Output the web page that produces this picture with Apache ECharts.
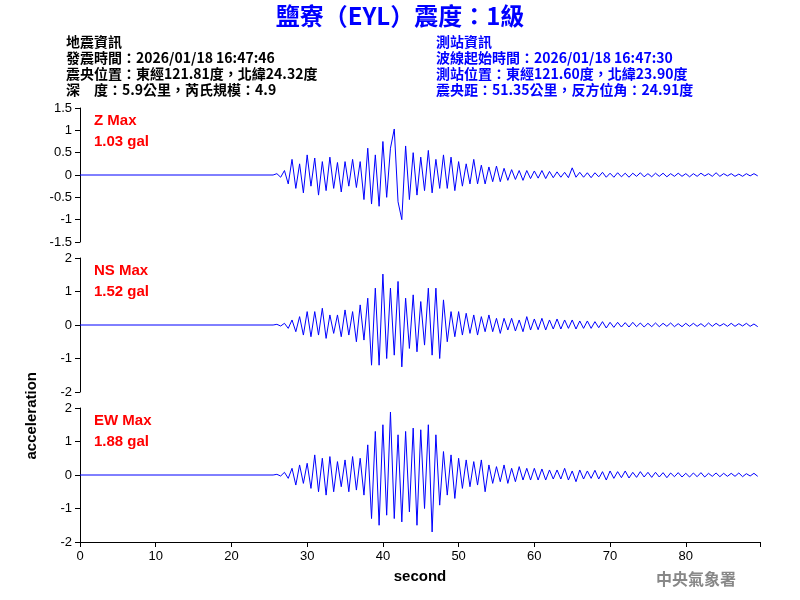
<!DOCTYPE html>
<html>
<head>
<meta charset="utf-8">
<script src="https://cdn.jsdelivr.net/npm/echarts@6/dist/echarts.min.js"></script>
<style>html,body{margin:0;background:#fff}#main{width:800px;height:600px}</style>
</head>
<body>
<div id="main"></div>
<script>
// samples every 0.5 s starting at 26 s (flat before)
var T0 = 26, STEP = 0.5;
var zData = [
	0.03,-0.05,0.1,-0.2,0.35,-0.3,0.25,-0.4,0.45,-0.25,
	0.38,-0.45,0.3,-0.35,0.4,-0.3,0.28,-0.38,0.3,-0.25,
	0.35,-0.28,0.3,-0.55,0.6,-0.65,0.45,-0.7,0.75,-0.5,
	0.6,1.03,-0.6,-1.0,0.65,-0.55,0.5,-0.45,0.4,-0.35,
	0.55,-0.4,0.35,-0.3,0.45,-0.3,0.4,-0.35,0.3,-0.25,
	0.25,-0.2,0.35,-0.2,0.22,-0.2,0.18,-0.15,0.2,-0.15,
	0.15,-0.12,0.12,-0.1,0.1,-0.12,0.1,-0.08,0.09,-0.07,
	0.1,-0.08,0.08,-0.06,0.07,-0.05,0.06,-0.06,0.16,-0.05,
	0.06,-0.05,0.05,-0.06,0.05,-0.04,0.06,-0.05,0.04,-0.05,
	0.05,-0.04,0.04,-0.05,0.04,-0.03,0.05,-0.04,0.03,-0.04,
	0.04,-0.03,0.04,-0.04,0.03,-0.03,0.04,-0.03,0.03,-0.04,
	0.03,-0.03,0.04,-0.02,0.03,-0.03,0.05,-0.03,0.03,-0.02,
	0.03,-0.03,0.02,-0.03,0.03,-0.02,0.03,-0.02
];
var nsData = [
	0.02,-0.03,0.05,-0.1,0.15,-0.2,0.25,-0.3,0.4,-0.35,
	0.4,-0.3,0.5,-0.4,0.3,-0.25,0.3,-0.35,0.45,-0.3,
	0.4,-0.5,0.6,-0.45,0.8,-1.2,1.1,-1.2,1.52,-1.0,
	1.1,-0.9,1.3,-1.25,0.8,-0.7,0.9,-0.8,0.7,-0.6,
	1.1,-0.9,1.1,-1.0,0.75,-0.5,0.4,-0.35,0.4,-0.3,
	0.35,-0.25,0.3,-0.3,0.25,-0.2,0.3,-0.2,0.2,-0.25,
	0.2,-0.15,0.2,-0.18,0.15,-0.2,0.25,-0.15,0.18,-0.14,
	0.2,-0.15,0.15,-0.12,0.18,-0.12,0.15,-0.1,0.15,-0.12,
	0.12,-0.1,0.12,-0.1,0.1,-0.08,0.1,-0.09,0.08,-0.07,
	0.08,-0.06,0.07,-0.06,0.08,-0.05,0.06,-0.06,0.05,-0.05,
	0.06,-0.05,0.05,-0.04,0.06,-0.05,0.04,-0.05,0.05,-0.04,
	0.05,-0.04,0.04,-0.05,0.06,-0.04,0.05,-0.03,0.04,-0.04,
	0.05,-0.04,0.04,-0.03,0.05,-0.04,0.03,-0.05
];
var ewData = [
	0.02,-0.03,0.08,-0.1,0.2,-0.3,0.3,-0.25,0.35,-0.4,
	0.6,-0.5,0.5,-0.6,0.55,-0.5,0.4,-0.35,0.45,-0.5,
	0.55,-0.45,0.5,-0.6,0.9,-1.3,1.3,-1.5,1.5,-1.2,
	1.88,-1.3,1.2,-1.4,1.3,-1.1,1.4,-1.5,1.35,-1.0,
	1.5,-1.7,1.2,-0.9,0.7,-0.6,0.6,-0.7,0.5,-0.4,
	0.45,-0.35,0.4,-0.3,0.45,-0.5,0.3,-0.25,0.25,-0.2,
	0.3,-0.25,0.2,-0.2,0.25,-0.15,0.2,-0.15,0.2,-0.15,
	0.18,-0.15,0.15,-0.12,0.15,-0.12,0.2,-0.15,0.12,-0.2,
	0.15,-0.12,0.12,-0.1,0.14,-0.12,0.1,-0.15,0.12,-0.1,
	0.1,-0.08,0.12,-0.09,0.08,-0.07,0.1,-0.06,0.08,-0.07,
	0.08,-0.06,0.07,-0.08,0.06,-0.05,0.07,-0.06,0.05,-0.06,
	0.06,-0.05,0.07,-0.06,0.05,-0.04,0.06,-0.05,0.05,-0.04,
	0.05,-0.04,0.06,-0.05,0.04,-0.03,0.05,-0.04
];
var panelNames = ['Z Max', 'NS Max', 'EW Max'];
var panelMax = ['1.03 gal', '1.52 gal', '1.88 gal'];
var yRanges = [[-1.5, 1.5, 0.5], [-2, 2, 1], [-2, 2, 1]];
var leftInfo = ['地震資訊', '發震時間：2026/01/18 16:47:46', '震央位置：東經121.81度，北緯24.32度', '深　度：5.9公里，芮氏規模：4.9'];
var rightInfo = ['測站資訊', '波線起始時間：2026/01/18 16:47:30', '測站位置：東經121.60度，北緯23.90度', '震央距：51.35公里，反方位角：24.91度'];

var font = '"Liberation Sans", Arial, "Noto Sans CJK TC", sans-serif';
var toPairs = function (arr) {
	var out = [[0, 0], [T0 - 0.5, 0]];
	arr.forEach(function (v, i) { out.push([T0 + i * STEP, v]); });
	return out;
};
var tops = [108, 258, 408];
var grids = [], xAxes = [], yAxes = [], series = [], graphics = [];
[zData, nsData, ewData].forEach(function (d, i) {
	grids.push({left: 80, right: 40, top: tops[i], height: 134});
	xAxes.push({
		type: 'value', gridIndex: i, min: 0, max: 89.8, interval: 10,
		show: i === 2,
		axisLine: {onZero: false, lineStyle: {color: '#000'}},
		axisTick: {lineStyle: {color: '#000'}},
		axisLabel: {color: '#000', fontSize: 13, fontFamily: font, formatter: function (v) { return v > 85 ? '' : v; }},
		splitLine: {show: false},
		name: i === 2 ? 'second' : '', nameLocation: 'middle', nameGap: 27,
		nameTextStyle: {color: '#000', fontSize: 15, fontWeight: 'bold', fontFamily: font}
	});
	yAxes.push({
		type: 'value', gridIndex: i, min: yRanges[i][0], max: yRanges[i][1], interval: yRanges[i][2],
		axisLine: {show: true, lineStyle: {color: '#000'}},
		axisTick: {show: true, lineStyle: {color: '#000'}},
		axisLabel: {color: '#000', fontSize: 13, fontFamily: font},
		splitLine: {show: false}
	});
	series.push({
		type: 'line', xAxisIndex: i, yAxisIndex: i, data: toPairs(d),
		symbol: 'none', lineStyle: {color: '#0000ff', width: 1}, animation: false
	});
	graphics.push({type: 'text', left: 94, top: tops[i] + 2, style: {text: panelNames[i] + '\n' + panelMax[i], fill: '#ff0000', font: 'bold 15px ' + font, lineHeight: 21}});
});
graphics.push({type: 'text', left: 'center', top: 4, style: {text: '鹽寮（EYL）震度：1級', fill: '#0000ff', font: 'bold 24px "Noto Sans CJK TC", sans-serif'}});
graphics.push({type: 'text', left: 66, top: 34, style: {text: leftInfo.join('\n'), fill: '#000', font: 'bold 14px "Noto Sans CJK TC", sans-serif', lineHeight: 16}});
graphics.push({type: 'text', left: 436, top: 34, style: {text: rightInfo.join('\n'), fill: '#0000ff', font: 'bold 14px "Noto Sans CJK TC", sans-serif', lineHeight: 16}});
graphics.push({type: 'text', left: 24, top: 372, rotation: Math.PI / 2, style: {text: 'acceleration', fill: '#000', font: 'bold 15px ' + font}});
graphics.push({type: 'text', left: 656, top: 571, style: {text: '中央氣象署', fill: '#888', font: 'bold 16px "Noto Sans CJK TC", serif'}});

var chart = echarts.init(document.getElementById('main'));
chart.setOption({
	backgroundColor: '#fff',
	animation: false,
	grid: grids, xAxis: xAxes, yAxis: yAxes, series: series, graphic: graphics
});
</script>
</body>
</html>
